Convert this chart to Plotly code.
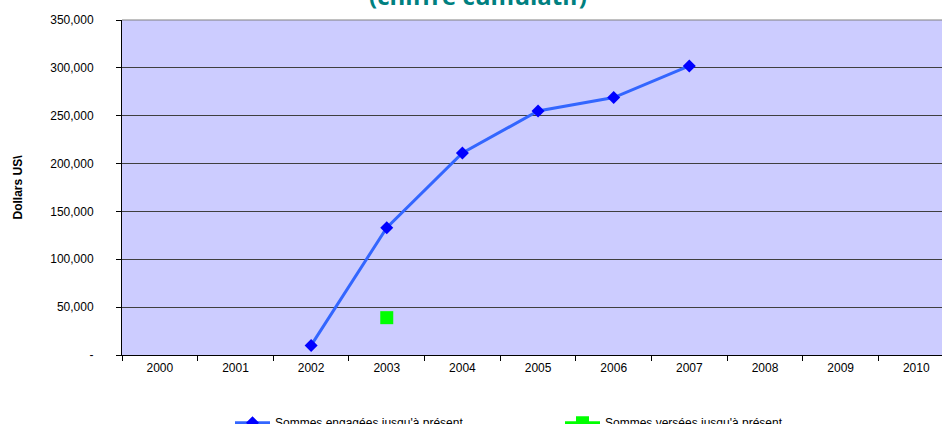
import plotly.graph_objects as go

years = ["2000", "2001", "2002", "2003", "2004", "2005", "2006", "2007", "2008", "2009", "2010"]
engagees = [None, None, 10000, 133000, 211000, 255000, 269000, 302000, None, None, None]
versees = [None, None, None, 39000, None, None, None, None, None, None, None]
ytickvals = [0, 50000, 100000, 150000, 200000, 250000, 300000, 350000]
yticktext = ["-", "50,000", "100,000", "150,000", "200,000", "250,000", "300,000", "350,000"]

fig = go.Figure()
fig.add_trace(go.Scatter(
    x=years, y=engagees, mode="lines+markers",
    name="Sommes engagées jusqu'à présent",
    line=dict(color="#3366FF", width=3),
    marker=dict(symbol="diamond", color="#0000FF", size=10),
    connectgaps=False,
))
fig.add_trace(go.Scatter(
    x=years, y=versees, mode="lines+markers",
    name="Sommes versées jusqu'à présent",
    line=dict(color="#00FF00", width=3),
    marker=dict(symbol="square", color="#00FF00", size=13),
))

fig.update_layout(
    width=942, height=424,
    margin=dict(l=122, r=0, t=20, b=69, autoexpand=False),
    paper_bgcolor="white",
    plot_bgcolor="#CCCCFF",
    font=dict(family="Liberation Sans, Arial, sans-serif", size=12, color="black"),
    showlegend=True,
    legend=dict(
        orientation="h", x=(230 - 122) / 820, xanchor="left", y=-0.159, yanchor="top",
        font=dict(size=12, color="black"),
        itemwidth=35,
        entrywidth=280, entrywidthmode="pixels",
        bgcolor="rgba(0,0,0,0)",
    ),
    annotations=[dict(
        text="<b>(chiffre cumulatif)</b>", xref="paper", yref="paper",
        x=(478 - 122) / 820, y=1.0, xanchor="center", yanchor="bottom", yshift=6,
        showarrow=False,
        font=dict(family="Open Sans, sans-serif", size=24, color="#008080"),
    )],
    shapes=[dict(type="line", xref="paper", yref="paper", x0=0, x1=1, y0=1, y1=1,
                 line=dict(color="#808080", width=1))],
)

fig.update_xaxes(
    type="category", categoryorder="array", categoryarray=years,
    range=[-0.5, 10.34],
    showline=True, linecolor="black", linewidth=1,
    ticks="outside", tickson="boundaries", ticklen=5, tickcolor="black",
    showgrid=False, zeroline=False,
    ticklabelstandoff=2,
    tickfont=dict(size=12, color="black"),
)
fig.update_yaxes(
    range=[0, 350000],
    tickvals=ytickvals, ticktext=yticktext,
    showline=True, linecolor="black", linewidth=1,
    ticks="outside", ticklen=5, tickcolor="black",
    showgrid=True, gridcolor="#3f3f3f", gridwidth=1,
    zeroline=False,
    ticklabelstandoff=20,
    tickfont=dict(size=12, color="black"),
    title=dict(text="<b>Dollars US\\</b>", font=dict(size=12, color="black"), standoff=25),
)

fig.write_html("out.html", config={"displayModeBar": False},
               post_script="document.body.style.margin='0';document.body.style.overflow='hidden';")
